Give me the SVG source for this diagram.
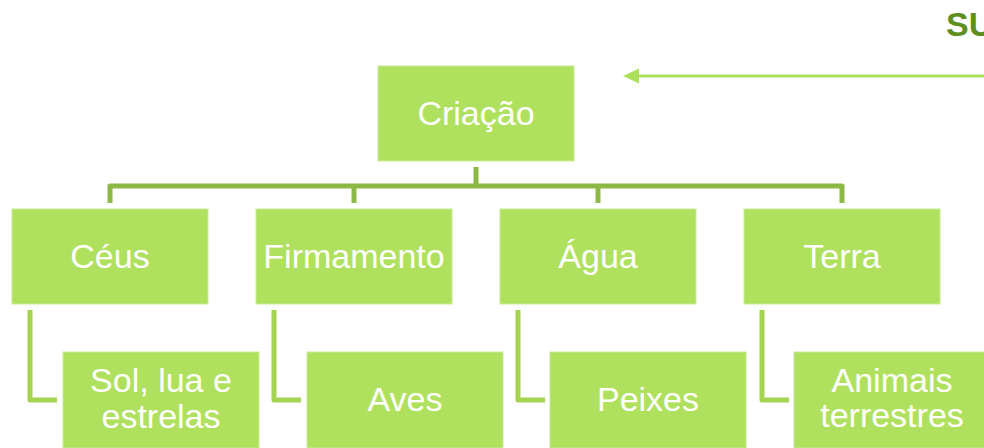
<svg xmlns="http://www.w3.org/2000/svg" width="984" height="448" viewBox="0 0 984 448">
<style>
.box{fill:#b0e15e;stroke:#c8eb97;stroke-width:1}
.t{font-family:"Liberation Sans",Arial,sans-serif;font-size:34px;fill:#ffffff;text-anchor:middle}
.c1{fill:none;stroke:#8cb846;stroke-width:5;stroke-linejoin:round}
.c2{fill:none;stroke:#a5d451;stroke-width:5;stroke-linejoin:round}
</style>
<rect width="984" height="448" fill="#ffffff"/>
<text x="946" y="36" style="font-family:'Liberation Sans',Arial,sans-serif;font-size:34px;font-weight:bold;fill:#5e8f1f">SU</text>
<g id="connectors">
<line x1="990" y1="76" x2="636" y2="76" stroke="#abe05c" stroke-width="3"/>
<polygon points="623,76 639,68.5 639,83.5" fill="#abe05c"/>
<path class="c1" d="M476,167 V186"/>
<path class="c1" d="M110,203 V186 H842 V203"/>
<path class="c1" d="M354,186 V203"/>
<path class="c1" d="M598,186 V203"/>
<path class="c2" d="M30,310 V400 H57"/>
<path class="c2" d="M274,310 V400 H301"/>
<path class="c2" d="M518,310 V400 H545"/>
<path class="c2" d="M762,310 V400 H789"/>
</g>
<g id="criacao"><rect class="box" x="378" y="66" width="196" height="95"/><text class="t" x="476" y="125">Criação</text></g>
<g id="ceus"><rect class="box" x="12" y="209" width="196" height="95"/><text class="t" x="110" y="268">Céus</text></g>
<g id="firmamento"><rect class="box" x="256" y="209" width="196" height="95"/><text class="t" x="354" y="268">Firmamento</text></g>
<g id="agua"><rect class="box" x="500" y="209" width="196" height="95"/><text class="t" x="598" y="268">Água</text></g>
<g id="terra"><rect class="box" x="744" y="209" width="196" height="95"/><text class="t" x="842" y="268">Terra</text></g>
<g id="sol"><rect class="box" x="63" y="352" width="196" height="96"/><text class="t" x="161" y="392">Sol, lua e</text><text class="t" x="161" y="428">estrelas</text></g>
<g id="aves"><rect class="box" x="307" y="352" width="196" height="96"/><text class="t" x="405" y="411">Aves</text></g>
<g id="peixes"><rect class="box" x="550" y="352" width="196" height="96"/><text class="t" x="648" y="411">Peixes</text></g>
<g id="animais"><rect class="box" x="794" y="352" width="196" height="96"/><text class="t" x="892" y="392">Animais</text><text class="t" x="892" y="427">terrestres</text></g>
</svg>
